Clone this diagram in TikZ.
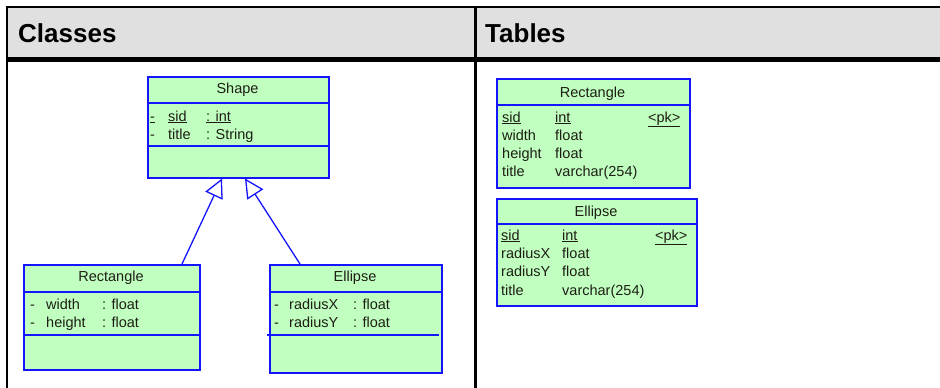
\documentclass[tikz,border=0pt]{standalone}
\usepackage{fontspec}
\setmainfont{Liberation Sans}
\usetikzlibrary{arrows.meta}
\definecolor{umlgreen}{RGB}{192,255,192}
\definecolor{umlblue}{RGB}{20,20,255}
\definecolor{hdrgray}{RGB}{224,224,224}
\definecolor{txtc}{RGB}{30,30,20}
\tikzset{
  umlbox/.style={draw=umlblue, fill=umlgreen, line width=1.5pt, anchor=north west, inner sep=0pt},
  sep/.style={draw=umlblue, line width=1.5pt},
  t/.style={anchor=base west, inner sep=0pt, text=txtc, font=\fontsize{14.5}{16}\selectfont},
  tc/.style={anchor=base, inner sep=0pt, text=txtc, font=\fontsize{14.5}{16}\selectfont},
  hdr/.style={anchor=base west, inner sep=0pt, font=\fontsize{26}{30}\selectfont\bfseries},
  inh/.style={draw=umlblue, line width=1.3pt, -{Triangle[open, length=19pt, width=19pt]}},
  frame/.style={draw=black, line width=2.2pt},
}
\newcommand{\ul}[1]{\underline{#1}}
\begin{document}
\begin{tikzpicture}[x=1pt, y=-1pt]
\useasboundingbox (0,0) rectangle (940,388);
% header band and frame
\fill[hdrgray] (6,7) rectangle (940,58);
\draw[frame] (6,7) -- (940,7);
\draw[black, line width=5pt] (6,59.5) -- (940,59.5);
\draw[frame] (7,6) -- (7,388);
\draw[frame] (475.5,6) -- (475.5,388);
\node[hdr] (hc) at (18,42) {Classes};
\node[hdr] (ht) at (485,42) {Tables};

% ---------- Classes ----------
% Shape
\node[umlbox, minimum width=181, minimum height=101] (shape) at (147,76) {};
\draw[sep] (147,103) -- (328,103);
\draw[sep] (147,146) -- (328,146);
\node[tc] (shapeT) at (237.5,93) {Shape};
\node[t] (s1a) at (150,121) {\ul{-}};
\node[t] (s1b) at (168,121) {\ul{sid}};
\node[t] (s1c) at (206,121) {\ul{: int}};
\node[t] (s2a) at (150,139) {-};
\node[t] (s2b) at (168,139) {title};
\node[t] (s2c) at (206,139) {: String};

% Rectangle class
\node[umlbox, minimum width=176, minimum height=105] (rect) at (23,264) {};
\draw[sep] (23,292) -- (199,292);
\draw[sep] (23,335) -- (199,335);
\node[tc] (rectT) at (111,281) {Rectangle};
\node[t] (r1a) at (30,309) {-};
\node[t] (r1b) at (46,309) {width};
\node[t] (r1c) at (102,309) {: float};
\node[t] (r2a) at (30,327) {-};
\node[t] (r2b) at (46,327) {height};
\node[t] (r2c) at (102,327) {: float};

% Ellipse class
\node[umlbox, minimum width=172, minimum height=108] (ell) at (269,264) {};
\draw[sep] (269,292) -- (441,292);
\draw[sep] (267,335) -- (439,335);
\node[tc] (ellT) at (355,281) {Ellipse};
\node[t] (e1a) at (274,309) {-};
\node[t] (e1b) at (289,309) {radiusX};
\node[t] (e1c) at (353,309) {: float};
\node[t] (e2a) at (274,327) {-};
\node[t] (e2b) at (289,327) {radiusY};
\node[t] (e2c) at (353,327) {: float};

% inheritance
\coordinate (ra) at ([xshift=159pt]rect.north west);
\coordinate (ta) at ([xshift=75pt]shape.south west);
\coordinate (ea) at ([xshift=31pt]ell.north west);
\coordinate (tb) at ([xshift=98pt]shape.south west);
\draw[inh] (ra) -- (ta);
\draw[inh] (ea) -- (tb);

% ---------- Tables ----------
\node[umlbox, minimum width=193, minimum height=109] (trect) at (496,78) {};
\draw[sep] (496,105) -- (689,105);
\node[tc] (trT) at (592.5,97) {Rectangle};
\node[t] (tr1a) at (502,122) {\ul{sid}};
\node[t] (tr1b) at (555,122) {\ul{int}};
\node[t] (tr1c) at (648,122) {\ul{<pk>}};
\node[t] (tr2a) at (502,140) {width};
\node[t] (tr2b) at (555,140) {float};
\node[t] (tr3a) at (502,158) {height};
\node[t] (tr3b) at (555,158) {float};
\node[t] (tr4a) at (502,176) {title};
\node[t] (tr4b) at (555,176) {varchar(254)};

\node[umlbox, minimum width=200, minimum height=107] (tell) at (496,198) {};
\draw[sep] (496,224) -- (696,224);
\node[tc] (teT) at (596,216) {Ellipse};
\node[t] (te1a) at (501,240) {\ul{sid}};
\node[t] (te1b) at (562,240) {\ul{int}};
\node[t] (te1c) at (655,240) {\ul{<pk>}};
\node[t] (te2a) at (501,258) {radiusX};
\node[t] (te2b) at (562,258) {float};
\node[t] (te3a) at (501,276) {radiusY};
\node[t] (te3b) at (562,276) {float};
\node[t] (te4a) at (501,295) {title};
\node[t] (te4b) at (562,295) {varchar(254)};
\end{tikzpicture}
\end{document}
